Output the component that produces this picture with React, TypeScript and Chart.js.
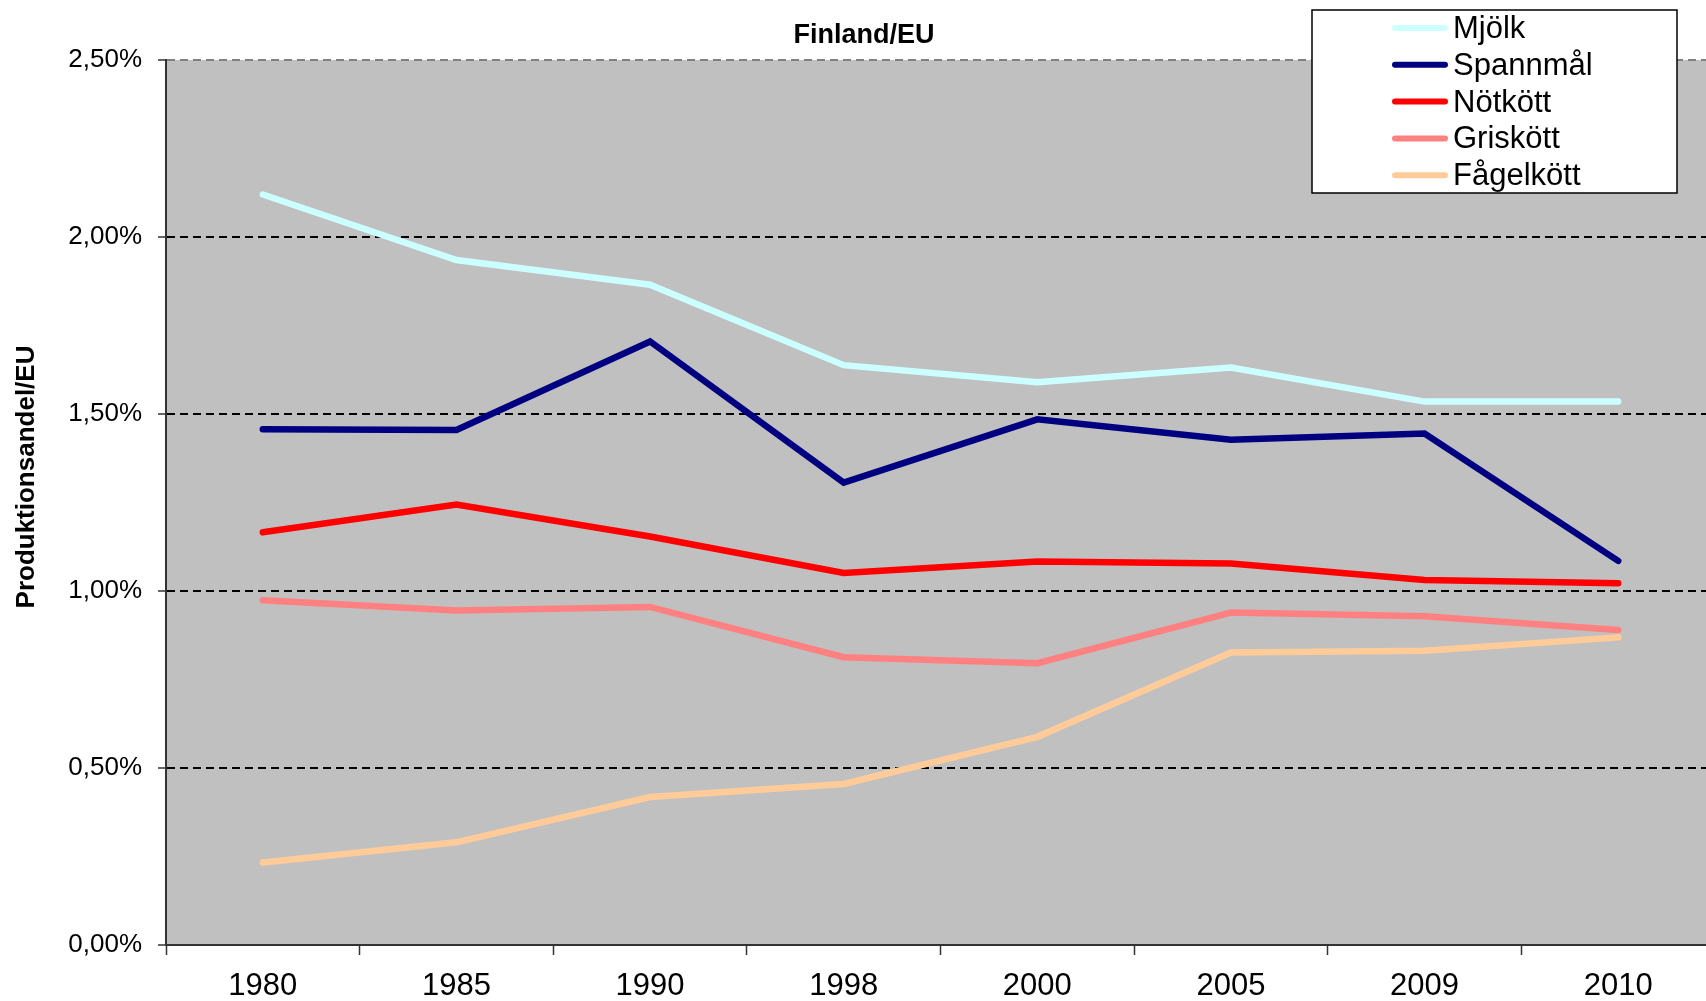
import React, { useEffect, useRef } from 'react';
import { Chart, registerables } from 'chart.js';

Chart.register(...registerables);

const years = ['1980', '1985', '1990', '1998', '2000', '2005', '2009', '2010'];
const mjolk = [2.12, 1.935, 1.865, 1.638, 1.59, 1.631, 1.535, 1.535];
const spannmal = [1.457, 1.455, 1.705, 1.306, 1.485, 1.427, 1.445, 1.085];
const notkott = [1.166, 1.244, 1.154, 1.051, 1.083, 1.078, 1.031, 1.022];
const griskott = [0.974, 0.945, 0.955, 0.813, 0.796, 0.939, 0.929, 0.89];
const fagelkott = [0.233, 0.29, 0.418, 0.455, 0.588, 0.826, 0.831, 0.869];

const seriesNames = ['Mjölk', 'Spannmål', 'Nötkött', 'Griskött', 'Fågelkött'];
const seriesValues = [mjolk, spannmal, notkott, griskott, fagelkott];
const seriesColors = ['#CCFFFF', '#000080', '#FF0000', '#FF8080', '#FFCC99'];

const yMin = 0;
const yMax = 2.5;
const yStep = 0.5;

const chartTitle = 'Finland/EU';
const yAxisTitle = 'Produktionsandel/EU';

const FONT = '"Liberation Sans", Arial, Helvetica, sans-serif';

const fmtPct = (v: number) => v.toFixed(2).replace('.', ',') + '%';

const decorPlugin = {
  id: 'decor',
  beforeDraw(chart: any) {
    const { ctx, chartArea: a } = chart;
    ctx.save();
    ctx.fillStyle = '#C0C0C0';
    ctx.fillRect(a.left, a.top, a.right - a.left, a.bottom - a.top);
    ctx.restore();
  },
  afterDraw(chart: any) {
    const ctx = chart.ctx;
    ctx.save();
    ctx.fillStyle = '#000';
    ctx.textAlign = 'center';
    ctx.textBaseline = 'middle';
    ctx.font = `bold 27px ${FONT}`;
    ctx.fillText(chartTitle, 864, 36);
    ctx.translate(27, 477);
    ctx.rotate(-Math.PI / 2);
    ctx.font = `bold 26px ${FONT}`;
    ctx.fillText(yAxisTitle, 0, 0);
    ctx.restore();

    // legend box
    ctx.save();
    ctx.fillStyle = '#FFFFFF';
    ctx.fillRect(1312, 10, 365, 183);
    ctx.strokeStyle = '#000';
    ctx.lineWidth = 1.5;
    ctx.strokeRect(1312, 10, 365, 183);
    chart.data.datasets.forEach((ds: any, i: number) => {
      const y = 28 + i * 36.8;
      ctx.strokeStyle = ds.borderColor;
      ctx.lineWidth = 6;
      ctx.lineCap = 'round';
      ctx.beginPath();
      ctx.moveTo(1395, y);
      ctx.lineTo(1445, y);
      ctx.stroke();
      ctx.fillStyle = '#000';
      ctx.font = `31px ${FONT}`;
      ctx.textAlign = 'left';
      ctx.textBaseline = 'middle';
      ctx.fillText(ds.label, 1453, y + 1.5);
    });
    ctx.restore();
  },
};

export default function App() {
  const canvasRef = useRef<HTMLCanvasElement | null>(null);

  useEffect(() => {
    if (!canvasRef.current) return;
    const chart = new Chart(canvasRef.current, {
      type: 'line',
      data: {
        labels: years,
        datasets: seriesNames.map((name, i) => ({
          label: name,
          data: seriesValues[i],
          borderColor: seriesColors[i],
          backgroundColor: seriesColors[i],
          borderWidth: 6.5,
          borderCapStyle: 'round',
          borderJoinStyle: 'miter',
          pointRadius: 0,
          pointHoverRadius: 0,
          tension: 0,
          fill: false,
          order: seriesNames.length - i,
        })),
      },
      options: {
        animation: false,
        responsive: false,
        devicePixelRatio: 1,
        layout: { padding: { top: 60, right: 15, left: 0, bottom: 0 } },
        plugins: {
          legend: { display: false },
          title: { display: false },
          tooltip: { enabled: false },
        },
        scales: {
          x: {
            type: 'category',
            offset: true,
            grid: {
              display: true,
              offset: true,
              drawOnChartArea: false,
              drawTicks: true,
              tickLength: 10,
              tickColor: '#333333',
              tickWidth: 1.5,
            },
            border: { display: true, color: '#333333', width: 2 },
            ticks: {
              color: '#000',
              font: { family: FONT, size: 31 },
              padding: 13,
              maxRotation: 0,
              autoSkip: false,
            },
            afterFit(scale: any) {
              scale.height = 56;
            },
          },
          y: {
            min: yMin,
            max: yMax,
            grid: {
              color: (c: any) =>
                c.tick && c.tick.value === yMax
                  ? '#808080'
                  : c.tick && c.tick.value === yMin
                  ? 'rgba(0,0,0,0)'
                  : '#000000',
              lineWidth: 2,
              drawTicks: true,
              tickLength: 8,
              tickColor: '#333333',
              tickWidth: 1.5,
              tickBorderDash: [],
            },
            border: { display: true, color: '#333333', width: 2, dash: [8, 5] },
            ticks: {
              stepSize: yStep,
              color: '#000',
              font: { family: FONT, size: 26 },
              padding: 16,
              callback: (v: any) => fmtPct(Number(v)),
            },
            afterFit(scale: any) {
              scale.width = 166;
            },
          },
        },
      } as any,
      plugins: [decorPlugin],
    });
    return () => chart.destroy();
  }, []);

  return (
    <div
      style={{
        position: 'fixed',
        left: 0,
        top: 0,
        width: 1706,
        height: 1001,
        overflow: 'hidden',
        background: '#fff',
      }}
    >
      <canvas ref={canvasRef} width={1730} height={1001} style={{ display: 'block' }} />
    </div>
  );
}
